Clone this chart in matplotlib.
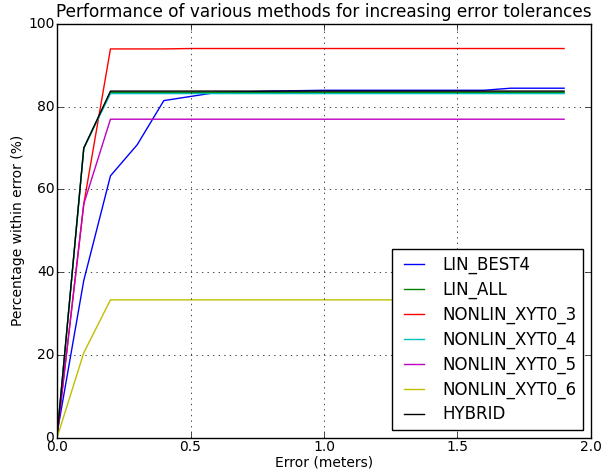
import matplotlib
matplotlib.use("Agg")
import matplotlib.pyplot as plt

plt.style.use("classic")

x = [0.0, 0.1, 0.2, 0.3, 0.4, 0.5, 0.6, 0.7, 0.8, 0.9, 1.0, 1.1, 1.2, 1.3, 1.4, 1.5, 1.6, 1.7, 1.8, 1.9]

lin_best4 = [1.0, 38.0, 63.3, 70.8, 81.5, 82.5, 83.5, 83.6, 83.8, 83.9, 84.0, 84.0, 84.0, 84.0, 84.0, 84.0, 84.0, 84.5, 84.5, 84.5]
lin_all = [0.5, 70.0, 83.5, 83.5, 83.5, 83.5, 83.5, 83.5, 83.5, 83.5, 83.5, 83.5, 83.5, 83.5, 83.5, 83.5, 83.5, 83.5, 83.5, 83.5]
nonlin3 = [0.5, 56.5, 94.0, 94.0, 94.0, 94.1, 94.1, 94.1, 94.1, 94.1, 94.1, 94.1, 94.1, 94.1, 94.1, 94.1, 94.1, 94.1, 94.1, 94.1]
nonlin4 = [0.5, 70.0, 83.2, 83.2, 83.2, 83.2, 83.2, 83.2, 83.2, 83.2, 83.2, 83.2, 83.2, 83.2, 83.2, 83.2, 83.2, 83.2, 83.2, 83.2]
nonlin5 = [0.5, 56.5, 77.0, 77.0, 77.0, 77.0, 77.0, 77.0, 77.0, 77.0, 77.0, 77.0, 77.0, 77.0, 77.0, 77.0, 77.0, 77.0, 77.0, 77.0]
nonlin6 = [0.0, 20.5, 33.3, 33.3, 33.3, 33.3, 33.3, 33.3, 33.3, 33.3, 33.3, 33.3, 33.3, 33.3, 33.3, 33.3, 33.3, 33.3, 33.3, 33.3]
hybrid = [0.5, 70.0, 83.8, 83.8, 83.8, 83.8, 83.8, 83.8, 83.8, 83.8, 83.8, 83.8, 83.8, 83.8, 83.8, 83.8, 83.8, 83.8, 83.8, 83.8]

labels = ["LIN_BEST4", "LIN_ALL", "NONLIN_XYT0_3", "NONLIN_XYT0_4", "NONLIN_XYT0_5", "NONLIN_XYT0_6", "HYBRID"]
colors = ["b", "g", "r", "c", "m", "y", "k"]
series = [lin_best4, lin_all, nonlin3, nonlin4, nonlin5, nonlin6, hybrid]

fig = plt.figure(figsize=(6.01, 4.73), dpi=100, facecolor="white")
ax = fig.add_axes([0.095, 0.075, 0.888, 0.874])
for s, c, l in zip(series, colors, labels):
    ax.plot(x, s, color=c, label=l, linewidth=1.0)

ax.set_xlim(0, 2.0)
ax.set_ylim(0, 100)
ax.grid(True)
ax.set_title("Performance of various methods for increasing error tolerances", fontsize=12.2)
ax.set_xlabel("Error (meters)", fontsize=10, labelpad=1)
ax.set_ylabel("Percentage within error (%)", fontsize=10, labelpad=2)
ax.tick_params(labelsize=10, pad=2)
ax.legend(loc="lower right", fontsize=12, borderaxespad=0.45, labelspacing=0.4,
          handlelength=1.8)
fig.savefig("out.png", dpi=100, facecolor="white")
